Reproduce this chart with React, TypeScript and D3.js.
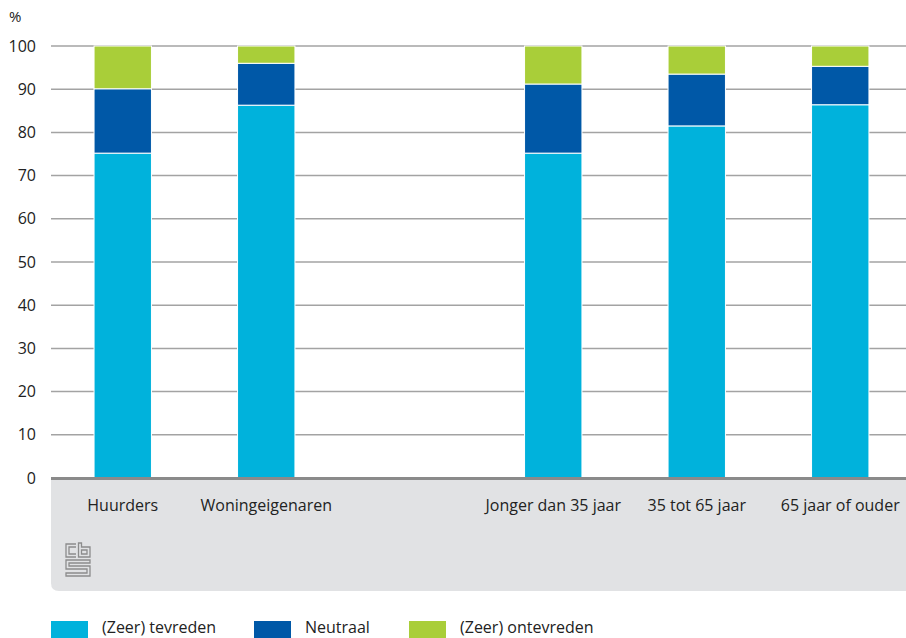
import React from "react";
import * as d3 from "d3";

const slots = ["Huurders", "Woningeigenaren", "", "Jonger dan 35 jaar", "35 tot 65 jaar", "65 jaar of ouder"];
const categories = ["Huurders", "Woningeigenaren", "Jonger dan 35 jaar", "35 tot 65 jaar", "65 jaar of ouder"];
const tevreden = [75.2, 86.3, 75.2, 81.5, 86.4];
const neutraal = [14.9, 9.7, 16, 12, 8.9];
const ontevreden = [9.9, 4, 8.8, 6.5, 4.7];
const seriesNames = ["(Zeer) tevreden", "Neutraal", "(Zeer) ontevreden"];
const seriesColors = ["#00b2dc", "#0058a7", "#a9ce39"];
const yTicks = [0, 10, 20, 30, 40, 50, 60, 70, 80, 90, 100];

const W = 906;
const H = 638;
const FONT = "'Open Sans', sans-serif";

export default function App() {
  const x = d3.scaleBand<string>().domain(slots).range([51, 912]).paddingInner(0.6).paddingOuter(0.3);
  const y = d3.scaleLinear().domain([0, 100]).range([478, 46]);

  const rows = categories.map((c, i) => ({ cat: c, t: tevreden[i], n: neutraal[i], o: ontevreden[i] }));
  const stack = d3.stack<any>().keys(["t", "n", "o"])(rows);

  const legendX = [51, 254, 409];

  return (
    <svg width={W} height={H} style={{ position: "absolute", left: 0, top: 0, background: "#fff" }} fontFamily={FONT}>
      {/* gray panel */}
      <path d={`M51,478 H906 V591 H59 Q51,591 51,583 Z`} fill="#e1e2e4" />
      {/* gridlines */}
      {yTicks.filter((t) => t > 0).map((t) => (
        <line key={t} x1={51} x2={906} y1={y(t)} y2={y(t)} stroke="#a3a3a3" strokeWidth={1.5} />
      ))}
      {/* y labels */}
      {yTicks.map((t) => (
        <text key={t} x={36} y={y(t)} dy="0.35em" textAnchor="end" fontSize={16} fill="#222">
          {t}
        </text>
      ))}
      <text x={9} y={22} fontSize={15} fill="#222">%</text>
      {/* bars */}
      {stack.map((s, si) => (
        <g key={si} fill={seriesColors[si]}>
          {s.map((d: any, i: number) => (
            <rect
              key={i}
              x={x(d.data.cat)}
              y={y(d[1])}
              width={x.bandwidth()}
              height={y(d[0]) - y(d[1])}
              stroke="#fff"
              strokeWidth={1}
            />
          ))}
        </g>
      ))}
      {/* baseline */}
      <line x1={51} x2={906} y1={478.5} y2={478.5} stroke="#8a8a8a" strokeWidth={3} />
      {/* category labels */}
      {categories.map((c) => (
        <text key={c} x={(x(c) as number) + x.bandwidth() / 2} y={511} textAnchor="middle" fontSize={16} fill="#222">
          {c}
        </text>
      ))}
      {/* cbs logo */}
      <g fill="none" stroke="#8c8c8c" strokeWidth={1.3}>
        <path d="M76,544 H66 V557 H76 M76,547 H69 V554 H76" />
        <path d="M78.5,543 V557 H90 V547 H81.5 V543 Z M81.5,550 H87 V554 H81.5 Z" />
        <path d="M90,560 H66 V569 H87 V573 H66 V576 H90 V566 H69 V563 H90 Z" />
      </g>
      {/* legend */}
      {seriesNames.map((n, i) => (
        <g key={n}>
          <rect x={legendX[i]} y={621} width={37} height={17} fill={seriesColors[i]} />
          <text x={legendX[i] + 51} y={633} fontSize={16} fill="#222">{n}</text>
        </g>
      ))}
    </svg>
  );
}
